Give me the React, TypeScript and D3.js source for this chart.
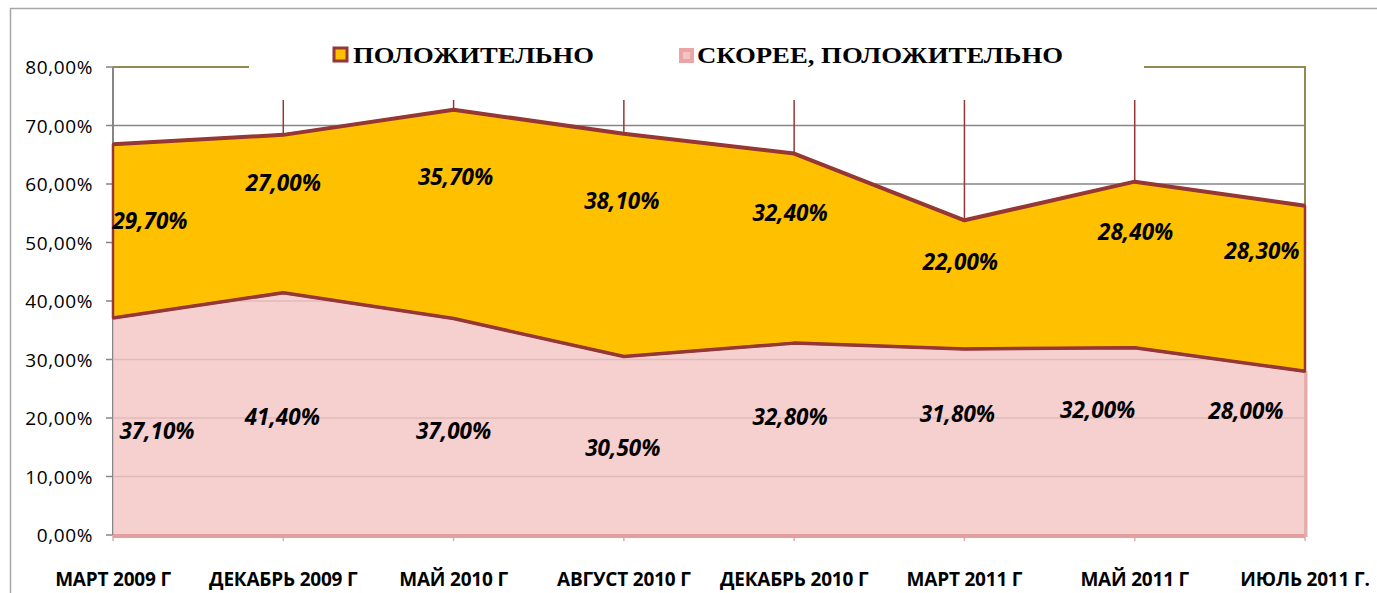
import React, { useEffect } from "react";
import * as d3 from "d3";

// survey waves
const categories = [
  "МАРТ 2009 Г",
  "ДЕКАБРЬ 2009 Г",
  "МАЙ 2010 Г",
  "АВГУСТ 2010 Г",
  "ДЕКАБРЬ 2010 Г",
  "МАРТ 2011 Г",
  "МАЙ 2011 Г",
  "ИЮЛЬ 2011 Г.",
];
// bottom series (stacked first)
const ratherPositive = [37.1, 41.4, 37.0, 30.5, 32.8, 31.8, 32.0, 28.0];
// top series
const positive = [29.7, 27.0, 35.7, 38.1, 32.4, 22.0, 28.4, 28.3];
const seriesNames = ["ПОЛОЖИТЕЛЬНО", "СКОРЕЕ, ПОЛОЖИТЕЛЬНО"];
const yTicks = [0, 10, 20, 30, 40, 50, 60, 70, 80];

// where Excel put the data labels (value level, horizontal nudge)
const positiveLabelAt = [53.8, 60.2, 61.2, 57.1, 55.2, 46.7, 51.8, 48.7];
const positiveLabelDx = [37, 0, 2, -2, -4, -4, 1, -43];
const ratherLabelAt = [17.9, 20.2, 17.9, 14.9, 20.3, 20.7, 21.5, 21.2];
const ratherLabelDx = [44, -1, 0, -1, -4, -7, -37, -59];

const fmt = (v: number) => v.toFixed(2).replace(".", ",") + "%";

export default function App() {
  useEffect(() => {
    document.body.style.margin = "0";
  }, []);

  const width = 1377;
  const height = 593;
  const left = 113, right = 1305, top = 67, bottom = 535;

  const x = d3.scalePoint<string>().domain(categories).range([left, right]);
  const y = d3.scaleLinear().domain([0, 80]).range([bottom, top]);

  const rows = categories.map((c, i) => ({ c, rather: ratherPositive[i], pos: positive[i] }));
  const stack = d3.stack<any>().keys(["rather", "pos"])(rows);

  const area = d3.area<any>()
    .x((d) => x(d.data.c)!)
    .y0((d) => y(d[0]))
    .y1((d) => y(d[1]));
  const topLine = d3.line<any>().x((d) => x(d.data.c)!).y((d) => y(d[1]));

  const red = "#953735";
  const grid = "#868686";
  const olive = "#938953";
  const orange = "#FFC000";

  const labelFont = "'Open Sans', 'DejaVu Sans', sans-serif";

  return (
    <svg width={width} height={height} style={{ display: "block", background: "#fff" }}>
      {/* chart frame */}
      <path d={`M10.5,${height + 2}V8.5H${width + 2}`} fill="none" stroke="#a6a6a6" strokeWidth={1.5} />

      {/* grid */}
      {yTicks.filter((t) => t > 0 && t < 80).map((t) => (
        <line key={t} x1={left} x2={right} y1={y(t)} y2={y(t)} stroke={grid} strokeWidth={1.5} />
      ))}
      {yTicks.map((t) => (
        <line key={"tk" + t} x1={left - 7} x2={left} y1={y(t)} y2={y(t)} stroke={grid} strokeWidth={1.5} />
      ))}

      {/* drop lines */}
      {stack[1].map((d, i) => (
        <line key={"dl" + i} x1={x(categories[i])} x2={x(categories[i])} y1={y(80)} y2={y(d[1])} stroke={red} strokeWidth={1.5} />
      ))}
      {categories.map((c) => (
        <line key={"bt" + c} x1={x(c)} x2={x(c)} y1={bottom} y2={bottom + 6} stroke="#e0a8a8" strokeWidth={1.5} />
      ))}
      <line x1={left} x2={left} y1={y(80)} y2={bottom} stroke={grid} strokeWidth={2} />

      {/* plot border */}
      <path d={`M${left},${y(80)}H${right}V${bottom}`} fill="none" stroke={olive} strokeWidth={2} />

      {/* areas */}
      <path d={area(stack[0])!} fill="rgb(244,196,196)" fillOpacity={0.82} />
      <line x1={left} x2={right} y1={bottom + 1} y2={bottom + 1} stroke="#e39e9e" strokeWidth={4} />
      <line x1={right + 1} x2={right + 1} y1={y(ratherPositive[7])} y2={bottom + 2} stroke="#e6aaaa" strokeWidth={3} />
      <path d={area(stack[1])!} fill={orange} stroke={red} strokeWidth={2.5} strokeLinejoin="round" />
      <path d={topLine(stack[1])!} fill="none" stroke={red} strokeWidth={4} strokeLinejoin="round" />
      <path d={topLine(stack[0])!} fill="none" stroke={red} strokeWidth={3.5} strokeLinejoin="round" />

      {/* data labels */}
      {positive.map((v, i) => (
        <text key={"pl" + i} x={x(categories[i])! + positiveLabelDx[i]} y={y(positiveLabelAt[i])}
          textAnchor="middle" dominantBaseline="central" fontFamily={labelFont}
          fontWeight="bold" fontStyle="italic" fontSize={22.5} fill="#000">{fmt(v)}</text>
      ))}
      {ratherPositive.map((v, i) => (
        <text key={"rl" + i} x={x(categories[i])! + ratherLabelDx[i]} y={y(ratherLabelAt[i])}
          textAnchor="middle" dominantBaseline="central" fontFamily={labelFont}
          fontWeight="bold" fontStyle="italic" fontSize={22.5} fill="#000">{fmt(v)}</text>
      ))}

      {/* y axis labels */}
      {yTicks.map((t) => (
        <text key={"yl" + t} x={left - 20} y={y(t)} textAnchor="end" dominantBaseline="central"
          fontFamily="'Open Sans', sans-serif" fontSize={19} letterSpacing={0.6} fill="#000">{fmt(t)}</text>
      ))}

      {/* x axis labels */}
      {categories.map((c) => (
        <text key={"xl" + c} x={x(c)} y={579} textAnchor="middle" dominantBaseline="central"
          fontFamily="'Open Sans', sans-serif" fontWeight="bold" fontSize={19} letterSpacing={-0.2} fill="#000">{c}</text>
      ))}

      {/* legend */}
      <rect x={249} y={30} width={895} height={70} fill="#fff" />
      <rect x={334} y={48} width={13} height={13} fill={orange} stroke={red} strokeWidth={3} />
      <text x={353} y={63} fontFamily="'Liberation Serif', serif" fontWeight="bold" fontSize={23}
        textLength={241} lengthAdjust="spacingAndGlyphs" fill="#000">{seriesNames[0]}</text>
      <rect x={679} y={48} width={15} height={15} fill="#eba5a5" />
      <rect x={683} y={52} width={7} height={7} fill="#f3c4c4" />
      <text x={697} y={63} fontFamily="'Liberation Serif', serif" fontWeight="bold" fontSize={23}
        textLength={366} lengthAdjust="spacingAndGlyphs" fill="#000">{seriesNames[1]}</text>
    </svg>
  );
}
